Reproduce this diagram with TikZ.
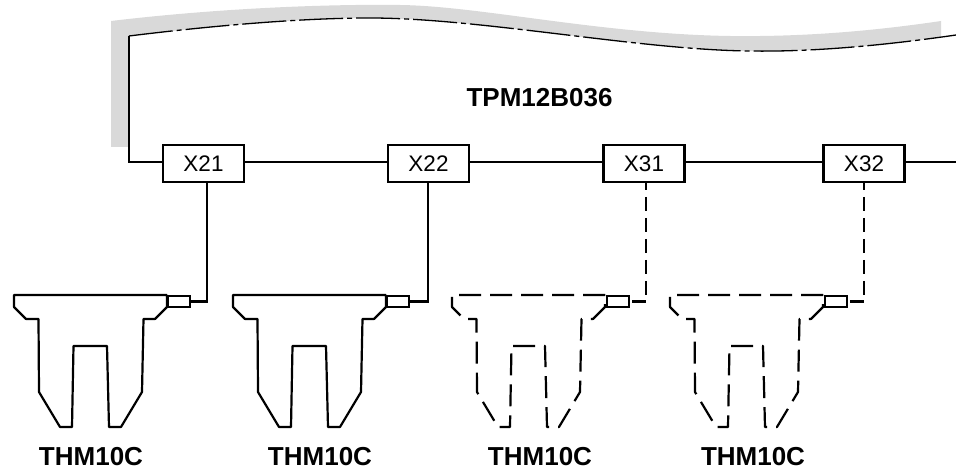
\documentclass[tikz,border=0pt]{standalone}
\usepackage{fontspec}
\setmainfont{Liberation Sans}
\tikzset{
  conn/.style={draw,fill=white,line width=2.5pt,minimum width=81pt,minimum height=37pt,inner sep=0pt,font=\fontsize{22.5}{24}\selectfont},
  wire/.style={line width=2.3pt},
  dwire/.style={line width=2.2pt,dash pattern=on 14pt off 7pt,dash phase=6pt},
  tag/.style={font=\bfseries\fontsize{26}{28}\selectfont,inner sep=0pt},
  plug/.style={draw,fill=white,line width=2.2pt,minimum width=22pt,minimum height=11pt,inner sep=0pt,anchor=north west},
  outline/.style={line width=2.2pt,line join=round},
  doutline/.style={line width=2.2pt,line join=round,dash pattern=on 22pt off 9pt},
  pics/thm/.style={code={
    \draw[#1] (153,15) -- (0,15) -- (0,27) -- (12,39) -- (24.5,39) -- (25,112) -- (46,147) -- (58,147)
      -- (59.5,66) -- (93,66) -- (95,147) -- (107,147) -- (128,112) -- (129.5,39) -- (141,39) -- (153,27) -- (153,15);
  }}
}
\begin{document}
\begin{tikzpicture}[x=1pt,y=-1pt]
\useasboundingbox (0,0) rectangle (956,470);
% grey band
\fill[fill=black!15] (111,147) -- (111,21)
  .. controls (220,8) and (330,4) .. (400,5)
  .. controls (480,6) and (600,34) .. (730,36)
  .. controls (810,37) and (880,30) .. (941,21)
  -- (941,37)
  .. controls (880,46) and (810,52) .. (750,51)
  .. controls (640,50) and (480,18) .. (370,18)
  .. controls (300,18) and (210,26) .. (129,36)
  -- (129,147) -- cycle;
% boundary
\coordinate (corner) at (129,162);
\coordinate (bstart) at (129,36);
\coordinate (bend) at (956,35);
\coordinate (busend) at (956,162);
\draw[line width=1.3pt,dash pattern=on 44pt off 4pt on 5pt off 4pt]
  (bstart) .. controls (210,26) and (300,18) .. (370,18)
  .. controls (480,18) and (640,50) .. (750,51)
  .. controls (810,52) and (880,46) .. (bend);
% connectors
\node[conn] (X21) at (203.5,163.5) {X21};
\node[conn] (X22) at (428.5,163.5) {X22};
\node[conn] (X31) at (644,163.5) {X31};
\node[conn] (X32) at (864,163.5) {X32};
\draw[wire] (bstart) -- (corner) -- (corner -| X21.west);
\draw[wire] (X21.east |- corner) -- (corner -| X22.west);
\draw[wire] (X22.east |- corner) -- (corner -| X31.west);
\draw[wire] (X31.east |- corner) -- (corner -| X32.west);
\draw[wire] (X32.east |- corner) -- (busend);
% modules
\pic at (14,280) {thm=outline};
\pic at (233,280) {thm=outline};
\pic at (452,280) {thm=doutline};
\pic at (670,280) {thm=doutline};
\node[plug] (p1) at (167,295) {};
\node[plug] (p2) at (386,295) {};
\node[plug] (p3) at (606,295) {};
\node[plug] (p4) at (824,295) {};
\coordinate (x21d) at (207,182);
\coordinate (x22d) at (428,182);
\coordinate (x31d) at (646,182);
\coordinate (x32d) at (864,182);
\draw[wire] (x21d) |- (p1.east);
\draw[wire] (x22d) |- (p2.east);
\draw[dwire] (x31d) |- (p3.east);
\draw[dwire] (x32d) |- (p4.east);
% labels
\node[tag] (main) at (539.5,97.5) {TPM12B036};
\node[tag] (t1) at (91,457) {THM10C};
\node[tag] (t2) at (320,457) {THM10C};
\node[tag] (t3) at (540,457) {THM10C};
\node[tag] (t4) at (753,457) {THM10C};
\end{tikzpicture}
\end{document}
